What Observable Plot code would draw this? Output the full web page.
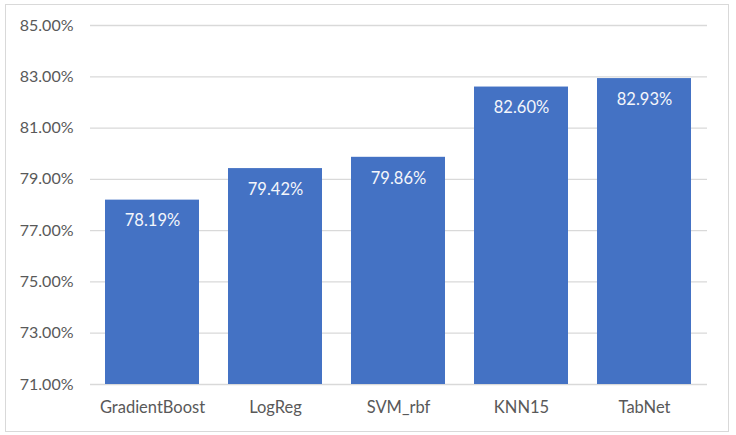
<!DOCTYPE html>
<html><head><meta charset="utf-8">
<script src="https://cdn.jsdelivr.net/npm/d3@7"></script>
<script src="https://cdn.jsdelivr.net/npm/@observablehq/plot@0.6"></script>
<style>
body{margin:0;background:#fff;}
#wrap{position:relative;width:736px;height:435px;}
#border{position:absolute;left:5px;top:4px;width:722px;height:426px;border:1.5px solid #d9d9d9;pointer-events:none;}
</style></head>
<body><div id="wrap"><div id="border"></div></div>
<script>
const models = ["GradientBoost","LogReg","SVM_rbf","KNN15","TabNet"];
const accuracy = [78.19,79.42,79.86,82.60,82.93];
const yTicks = [71,73,75,77,79,81,83,85];

const data = models.map((m,i)=>({model:m, acc:accuracy[i]}));
const fmt = d => d.toFixed(2) + "%";

const chart = Plot.plot({
  width:736, height:435,
  marginLeft:90, marginRight:29, marginTop:25, marginBottom:51,
  style:{fontFamily:"Lato, 'Open Sans', sans-serif", fontSize:"16px", color:"#595959", background:"transparent"},
  x:{domain:models, paddingInner:0.235, paddingOuter:0.117, label:null, tickSize:0, tickPadding:17},
  y:{domain:[71,85], ticks:yTicks, tickFormat:fmt, label:null, tickSize:0, tickPadding:17},
  marks:[
    Plot.ruleY(yTicks,{stroke:"#d9d9d9", strokeWidth:1.3}),
    Plot.barY(data,{x:"model", y1:71, y2:"acc", fill:"#4472C4"}),
    Plot.text(data,{x:"model", y:"acc", text:d=>fmt(d.acc), dy:21, fill:"#f4f6fb", fontSize:16.5}),
    Plot.axisX({tickSize:0, tickPadding:17, fontSize:16.5, label:null}),
    Plot.axisY({ticks:yTicks, tickFormat:fmt, tickSize:0, tickPadding:17, fontSize:16, label:null})
  ]
});
document.getElementById("wrap").appendChild(chart);
chart.style.position="absolute";chart.style.left="0";chart.style.top="0";
</script></body></html>
